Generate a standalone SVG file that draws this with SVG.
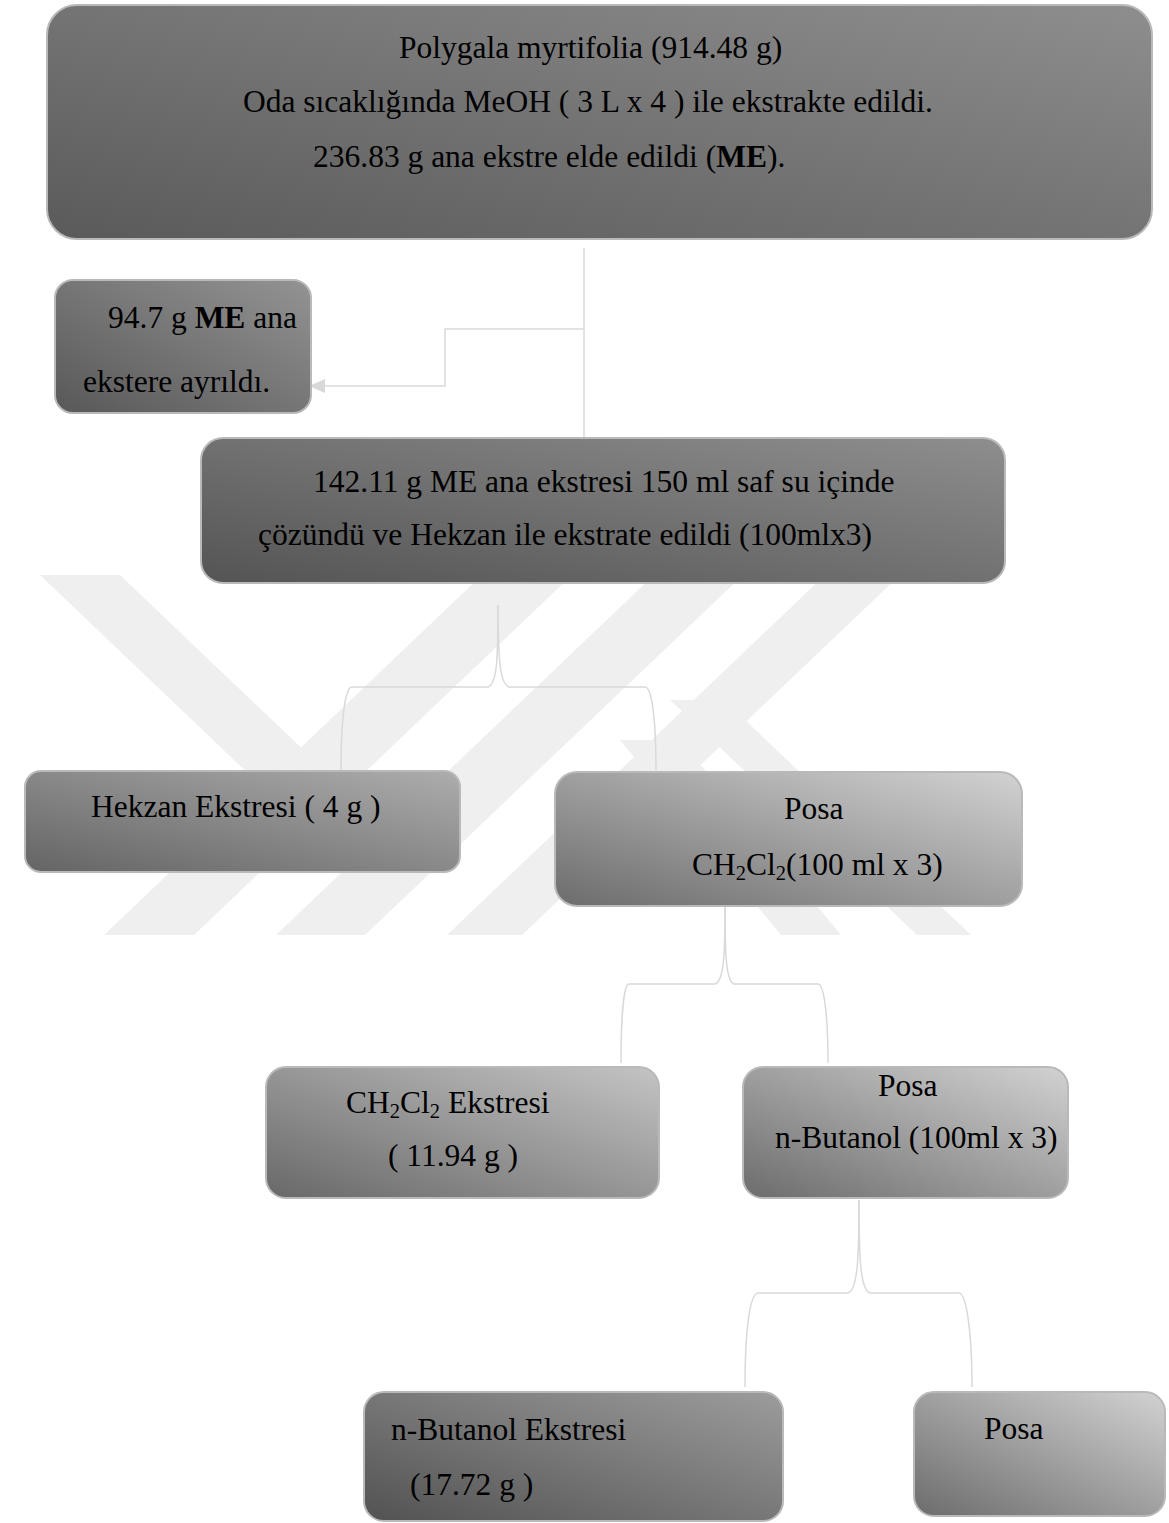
<svg xmlns="http://www.w3.org/2000/svg" width="1169" height="1523" viewBox="0 0 1169 1523">
<style>
.t{font-family:"Liberation Serif","Times New Roman",serif;font-size:31.5px;fill:#000}
.b{font-weight:bold}
.box{stroke:#b9b9b9;stroke-width:2}
.conn{fill:none;stroke:#d9d9d9;stroke-width:1.5}
.wm{fill:#efefef}
</style>
<defs>
<linearGradient id="g1" x1="0" y1="1" x2="1" y2="0"><stop offset="0" stop-color="#5a5a5a"/><stop offset="1" stop-color="#8e8e8e"/></linearGradient>
<linearGradient id="g2" x1="0" y1="1" x2="1" y2="0"><stop offset="0" stop-color="#585858"/><stop offset="1" stop-color="#939393"/></linearGradient>
<linearGradient id="g3" x1="0" y1="1" x2="1" y2="0"><stop offset="0" stop-color="#545454"/><stop offset="1" stop-color="#8e8e8e"/></linearGradient>
<linearGradient id="g4" x1="0" y1="1" x2="1" y2="0"><stop offset="0" stop-color="#646464"/><stop offset="1" stop-color="#adadad"/></linearGradient>
<linearGradient id="g5" x1="0" y1="1" x2="1" y2="0"><stop offset="0" stop-color="#6c6c6c"/><stop offset="1" stop-color="#d2d2d2"/></linearGradient>
<linearGradient id="g6" x1="0" y1="1" x2="1" y2="0"><stop offset="0" stop-color="#686868"/><stop offset="1" stop-color="#c4c4c4"/></linearGradient>
<linearGradient id="g8" x1="0" y1="1" x2="1" y2="0"><stop offset="0" stop-color="#525252"/><stop offset="1" stop-color="#9c9c9c"/></linearGradient>
<marker id="ah" markerUnits="userSpaceOnUse" markerWidth="16" markerHeight="14" refX="16" refY="7" orient="auto" viewBox="0 0 16 14"><path d="M0,0 L16,7 L0,14 z" fill="#d9d9d9"/></marker>
<clipPath id="wmclip"><rect x="0" y="575" width="1169" height="360"/></clipPath>
</defs>
<rect width="1169" height="1523" fill="#fff"/>
<g id="watermark" clip-path="url(#wmclip)">
<polygon class="wm" points="40,575 120,575 356,800 276,800"/>
<polygon class="wm" points="482,575 572,575 194,935 104,935"/>
<polygon class="wm" points="654,575 743,575 365,935 276,935"/>
<polygon class="wm" points="825,575 900,575 522,935 447,935"/>
<polygon class="wm" points="670,700 724,700 971,935 917,935"/>
<polygon class="wm" points="620,740 680,740 841,935 781,935"/>
</g>
<g id="connectors">
<path class="conn" d="M584 248 V453" marker-end="url(#ah)"/>
<path class="conn" d="M584 329 H445 V386 H309" marker-end="url(#ah)"/>
<path class="conn" d="M498 605 C498 660 497 684 488 687 H352 C345 687 341 720 341 770"/>
<path class="conn" d="M498 605 C498 660 500 684 509 687 H645 C652 687 656 720 656 770"/>
<path class="conn" d="M725 905 C725 955 724 981 715 984 H629 C624 984 621 1015 621 1063"/>
<path class="conn" d="M725 905 C725 955 726 981 734 984 H818 C824 984 828 1015 828 1063"/>
<path class="conn" d="M859 1200 C859 1255 858 1290 848 1293 H758 C750 1293 745 1330 745 1387"/>
<path class="conn" d="M859 1200 C859 1255 860 1290 870 1293 H959 C966 1293 972 1330 972 1387"/>
</g>
<g id="n1"><rect class="box" x="47" y="5" width="1105" height="234" rx="30" fill="url(#g1)"/>
<text class="t" x="399" y="58">Polygala myrtifolia (914.48 g)</text>
<text class="t" x="243" y="112">Oda sıcaklığında MeOH ( 3 L x 4 ) ile ekstrakte edildi.</text>
<text class="t" x="313" y="167">236.83 g ana ekstre elde edildi (<tspan class="b">ME</tspan>).</text></g>
<g id="n2"><rect class="box" x="55" y="280" width="256" height="133" rx="18" fill="url(#g2)"/>
<text class="t" x="108" y="328">94.7 g <tspan class="b">ME</tspan> ana</text>
<text class="t" x="83" y="392">ekstere ayrıldı.</text></g>
<g id="n3"><rect class="box" x="201" y="438" width="804" height="145" rx="22" fill="url(#g3)"/>
<text class="t" x="313" y="492">142.11 g ME ana ekstresi 150 ml saf su içinde</text>
<text class="t" x="258" y="545">çözündü ve Hekzan ile ekstrate edildi (100mlx3)</text></g>
<g id="n4"><rect class="box" x="25" y="771" width="435" height="101" rx="16" fill="url(#g4)"/>
<text class="t" x="91" y="817">Hekzan Ekstresi ( 4 g )</text></g>
<g id="n5"><rect class="box" x="555" y="772" width="467" height="134" rx="22" fill="url(#g5)"/>
<text class="t" x="784" y="819">Posa</text>
<text class="t" x="692" y="875">CH<tspan font-size="20.5" dy="5">2</tspan><tspan dy="-5">Cl</tspan><tspan font-size="20.5" dy="5">2</tspan><tspan dy="-5">(100 ml x 3)</tspan></text></g>
<g id="n6"><rect class="box" x="266" y="1067" width="393" height="131" rx="20" fill="url(#g6)"/>
<text class="t" x="346" y="1113">CH<tspan font-size="20.5" dy="5">2</tspan><tspan dy="-5">Cl</tspan><tspan font-size="20.5" dy="5">2</tspan><tspan dy="-5"> Ekstresi</tspan></text>
<text class="t" x="388" y="1166">( 11.94 g )</text></g>
<g id="n7"><rect class="box" x="743" y="1067" width="325" height="131" rx="20" fill="url(#g5)"/>
<text class="t" x="878" y="1096">Posa</text>
<text class="t" x="775" y="1148">n-Butanol (100ml x 3)</text></g>
<g id="n8"><rect class="box" x="364" y="1392" width="419" height="129" rx="20" fill="url(#g8)"/>
<text class="t" x="391" y="1440">n-Butanol Ekstresi</text>
<text class="t" x="410" y="1495">(17.72 g )</text></g>
<g id="n9"><rect class="box" x="914" y="1392" width="251" height="124" rx="20" fill="url(#g5)"/>
<text class="t" x="984" y="1439">Posa</text></g>
</svg>
